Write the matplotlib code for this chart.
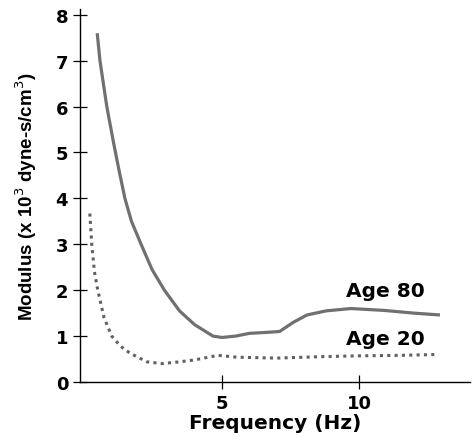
import matplotlib.pyplot as plt

# --- Data ---
freq_80 = [0.45, 0.55, 0.8, 1.05, 1.25, 1.46, 1.7, 2.05, 2.45, 2.9, 3.45, 4.0, 4.67, 5.0,
           5.5, 6.0, 6.6, 7.1, 7.6, 8.1, 8.8, 9.7, 10.9, 12.0, 12.95]
mod_80 = [7.6, 7.0, 6.0, 5.2, 4.6, 4.0, 3.5, 3.0, 2.45, 2.0, 1.55, 1.25, 1.0, 0.97,
          1.0, 1.06, 1.08, 1.1, 1.3, 1.46, 1.55, 1.6, 1.56, 1.5, 1.46]

freq_20 = [0.18, 0.22, 0.25, 0.35, 0.47, 0.7, 0.98, 1.3, 1.64, 2.26, 2.8, 3.47, 4.0, 4.85,
           5.55, 7.0, 8.5, 10.0, 11.5, 12.9]
mod_20 = [3.67, 3.3, 3.0, 2.4, 2.0, 1.4, 1.0, 0.78, 0.63, 0.44, 0.4, 0.44, 0.48, 0.58,
          0.54, 0.52, 0.55, 0.57, 0.58, 0.6]

x_ticks = [5, 10]
y_ticks = [0, 1, 2, 3, 4, 5, 6, 7, 8]

# --- Figure ---
fig = plt.figure(figsize=(4.73, 4.39), dpi=100)
ax = fig.add_axes([0.169, 0.1276, 0.825, 0.85])

ax.plot(freq_80, mod_80, color="#707070", lw=2.3, solid_capstyle="butt")
ax.plot(freq_20, mod_20, color="#606060", lw=2.2, dashes=(1, 1.4))

ax.text(10.95, 2.0, "Age 80", fontsize=14.5, fontweight="bold", ha="center", va="center")
ax.text(10.95, 0.95, "Age 20", fontsize=14.5, fontweight="bold", ha="center", va="center")

ax.set_xlim(-0.18, 14.05)
ax.set_ylim(0, 8.13)
ax.set_xticks(x_ticks)
ax.set_yticks(y_ticks)
ax.tick_params(axis="both", direction="inout", length=10, width=0.9, labelsize=13)
for lab in ax.get_xticklabels() + ax.get_yticklabels():
    lab.set_fontweight("bold")
ax.spines["top"].set_visible(False)
ax.spines["right"].set_visible(False)
ax.spines["left"].set_linewidth(1.0)
ax.spines["bottom"].set_linewidth(1.0)

ax.set_xlabel("Frequency (Hz)", fontsize=14.5, fontweight="bold", labelpad=1)
ax.set_ylabel("Modulus (x 10$^3$ dyne-s/cm$^3$)", fontsize=13.5, fontweight="bold",
              family=["Liberation Sans"], labelpad=12)

plt.savefig("out.png", dpi=100)
